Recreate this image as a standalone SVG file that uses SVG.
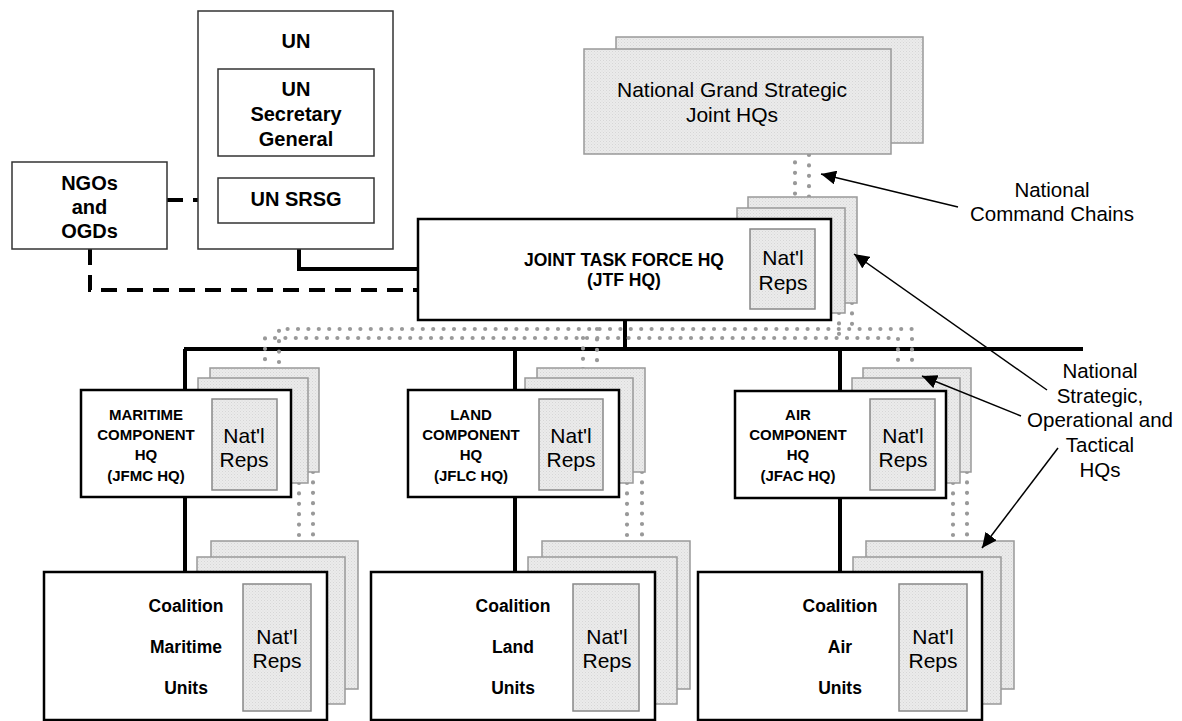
<svg xmlns="http://www.w3.org/2000/svg" width="1182" height="721" viewBox="0 0 1182 721">
<defs>
<pattern id="tex" width="3" height="3" patternUnits="userSpaceOnUse">
<rect width="3" height="3" fill="#ebebeb"/>
<rect width="1" height="1" fill="#d6d6d6"/>
<rect x="1.5" y="1.5" width="1" height="1" fill="#dcdcdc"/>
</pattern>
<marker id="ah" markerUnits="userSpaceOnUse" markerWidth="16" markerHeight="14" refX="15" refY="7" orient="auto">
<path d="M0,0 L15,7 L0,14 z" fill="#000"/>
</marker>
<style>
.un{fill:#fff;stroke:#333;stroke-width:1.5}
.main{fill:#fff;stroke:#000;stroke-width:2.5}
.sh{fill:url(#tex);stroke:#999;stroke-width:1.5}
.rep{fill:url(#tex);stroke:#888;stroke-width:1.5}
.b20{font-family:"Liberation Sans",Arial,sans-serif;font-weight:bold;font-size:20px;text-anchor:middle;fill:#000}
.b17{font-family:"Liberation Sans",Arial,sans-serif;font-weight:bold;font-size:17.5px;text-anchor:middle;fill:#000}
.b15{font-family:"Liberation Sans",Arial,sans-serif;font-weight:bold;font-size:15px;text-anchor:middle;fill:#000}
.r21{font-family:"Liberation Sans",Arial,sans-serif;font-size:21px;text-anchor:middle;fill:#000}
.r20{font-family:"Liberation Sans",Arial,sans-serif;font-size:20.5px;text-anchor:middle;fill:#000}
.solid{fill:none;stroke:#000;stroke-width:4}
.dash{fill:none;stroke:#000;stroke-width:4;stroke-dasharray:16 10}
.dot{fill:none;stroke:#999;stroke-width:4.2;stroke-linecap:round;stroke-dasharray:0 10.4}
.arr{fill:none;stroke:#000;stroke-width:1.5;marker-end:url(#ah)}
</style>
</defs>
<rect width="1182" height="721" fill="#fff"/>

<g id="connectors">
<path class="solid" d="M299,156 V178" style="stroke-width:3"/>
<path class="solid" d="M299,223 V269 H418"/>
<path class="dash" d="M167,200 H198"/>
<path class="dash" d="M90,249 V290 H418"/>
<path class="solid" d="M625,320 V349"/>
<path class="solid" d="M184,349 H1083"/>
<path class="solid" d="M185,349 V390 M185,497 V572"/>
<path class="solid" d="M515,349 V390 M515,497 V572"/>
<path class="solid" d="M840,349 V391 M840,498 V572"/>
<path class="dot" d="M795,152 V215"/>
<path class="dot" d="M809,155 V197"/>
<path class="dot" d="M839,313 V338"/>
<path class="dot" d="M852,303 V329"/>
<path class="dot" d="M279,362 V329 H912 V362"/>
<path class="dot" d="M265,380 V338 H898 V380"/>
<path class="dot" d="M583,338 V380"/>
<path class="dot" d="M597,329 V362"/>
<path class="dot" d="M299,483 V565"/>
<path class="dot" d="M313,472 V536"/>
<path class="dot" d="M627,483 V565"/>
<path class="dot" d="M642,472 V536"/>
<path class="dot" d="M953,483 V565"/>
<path class="dot" d="M967,472 V536"/>
</g>

<g id="un">
<rect class="un" x="198" y="11" width="195" height="238"/>
<text class="b20" x="296" y="48">UN</text>
</g>
<g id="un-sg">
<rect class="un" x="218" y="69" width="156" height="87"/>
<text class="b20" x="296" y="96">UN</text>
<text class="b20" x="296" y="121">Secretary</text>
<text class="b20" x="296" y="146">General</text>
</g>
<g id="un-srsg">
<rect class="un" x="218" y="178" width="156" height="45"/>
<text class="b20" x="296" y="206">UN SRSG</text>
</g>
<g id="ngos">
<rect class="un" x="12" y="162" width="155" height="87"/>
<text class="b20" x="89.5" y="190">NGOs</text>
<text class="b20" x="89.5" y="214">and</text>
<text class="b20" x="89.5" y="238">OGDs</text>
</g>

<g id="national-grand-strategic">
<rect class="sh" x="616" y="37" width="307" height="106"/>
<rect class="sh" x="584" y="49" width="307" height="105"/>
<text class="r21" x="732" y="97">National Grand Strategic</text>
<text class="r21" x="732" y="122">Joint HQs</text>
</g>

<g id="jtf-hq">
<rect class="sh" x="748" y="197" width="109" height="106"/>
<rect class="sh" x="737" y="208" width="108" height="105"/>
<rect class="main" x="418" y="219" width="413" height="101"/>
<text class="b17" x="624" y="266">JOINT TASK FORCE HQ</text>
<text class="b17" x="624" y="286">(JTF HQ)</text>
<rect class="rep" x="750" y="229" width="65" height="80"/>
<text class="r21" x="783" y="265">Nat'l</text>
<text class="r21" x="783" y="290">Reps</text>
</g>

<g id="maritime-hq">
<rect class="sh" x="210" y="368" width="109" height="104"/>
<rect class="sh" x="198" y="378" width="110" height="105"/>
<rect class="main" x="81" y="390" width="210" height="107"/>
<text class="b15" x="146" y="420">MARITIME</text>
<text class="b15" x="146" y="440">COMPONENT</text>
<text class="b15" x="146" y="460">HQ</text>
<text class="b15" x="146" y="481">(JFMC HQ)</text>
<rect class="rep" x="212" y="399" width="65" height="91"/>
<text class="r21" x="244" y="443">Nat'l</text>
<text class="r21" x="244" y="467">Reps</text>
</g>

<g id="land-hq">
<rect class="sh" x="537" y="368" width="108" height="104"/>
<rect class="sh" x="525" y="378" width="108" height="105"/>
<rect class="main" x="408" y="390" width="211" height="107"/>
<text class="b15" x="471" y="420">LAND</text>
<text class="b15" x="471" y="440">COMPONENT</text>
<text class="b15" x="471" y="460">HQ</text>
<text class="b15" x="471" y="481">(JFLC HQ)</text>
<rect class="rep" x="539" y="399" width="64" height="91"/>
<text class="r21" x="571" y="443">Nat'l</text>
<text class="r21" x="571" y="467">Reps</text>
</g>

<g id="air-hq">
<rect class="sh" x="863" y="368" width="108" height="104"/>
<rect class="sh" x="852" y="378" width="108" height="105"/>
<rect class="main" x="735" y="391" width="211" height="107"/>
<text class="b15" x="798" y="420">AIR</text>
<text class="b15" x="798" y="440">COMPONENT</text>
<text class="b15" x="798" y="460">HQ</text>
<text class="b15" x="798" y="481">(JFAC HQ)</text>
<rect class="rep" x="870" y="399" width="65" height="91"/>
<text class="r21" x="903" y="443">Nat'l</text>
<text class="r21" x="903" y="467">Reps</text>
</g>

<g id="maritime-units">
<rect class="sh" x="211" y="541" width="147" height="148"/>
<rect class="sh" x="197" y="557" width="148" height="147"/>
<rect class="main" x="44" y="572" width="283" height="148"/>
<text class="b17" x="186" y="612">Coalition</text>
<text class="b17" x="186" y="653">Maritime</text>
<text class="b17" x="186" y="694">Units</text>
<rect class="rep" x="243" y="584" width="68" height="127"/>
<text class="r21" x="277" y="644">Nat'l</text>
<text class="r21" x="277" y="668">Reps</text>
</g>

<g id="land-units">
<rect class="sh" x="542" y="541" width="148" height="148"/>
<rect class="sh" x="528" y="557" width="149" height="147"/>
<rect class="main" x="371" y="572" width="284" height="148"/>
<text class="b17" x="513" y="612">Coalition</text>
<text class="b17" x="513" y="653">Land</text>
<text class="b17" x="513" y="694">Units</text>
<rect class="rep" x="573" y="584" width="66" height="127"/>
<text class="r21" x="607" y="644">Nat'l</text>
<text class="r21" x="607" y="668">Reps</text>
</g>

<g id="air-units">
<rect class="sh" x="866" y="541" width="148" height="148"/>
<rect class="sh" x="853" y="557" width="148" height="147"/>
<rect class="main" x="698" y="572" width="284" height="148"/>
<text class="b17" x="840" y="612">Coalition</text>
<text class="b17" x="840" y="653">Air</text>
<text class="b17" x="840" y="694">Units</text>
<rect class="rep" x="899" y="584" width="68" height="127"/>
<text class="r21" x="933" y="644">Nat'l</text>
<text class="r21" x="933" y="668">Reps</text>
</g>

<g id="annotations">
<text class="r20" x="1052" y="197">National</text>
<text class="r20" x="1052" y="221">Command Chains</text>
<text class="r20" x="1100" y="378">National</text>
<text class="r20" x="1100" y="402.5">Strategic,</text>
<text class="r20" x="1100" y="427">Operational and</text>
<text class="r20" x="1100" y="452">Tactical</text>
<text class="r20" x="1100" y="476.5">HQs</text>
<path class="arr" d="M958,207 L821,174"/>
<path class="arr" d="M1047,390 L854,254"/>
<path class="arr" d="M1021,416 L922,376"/>
<path class="arr" d="M1058,448 L982,548"/>
</g>
</svg>
